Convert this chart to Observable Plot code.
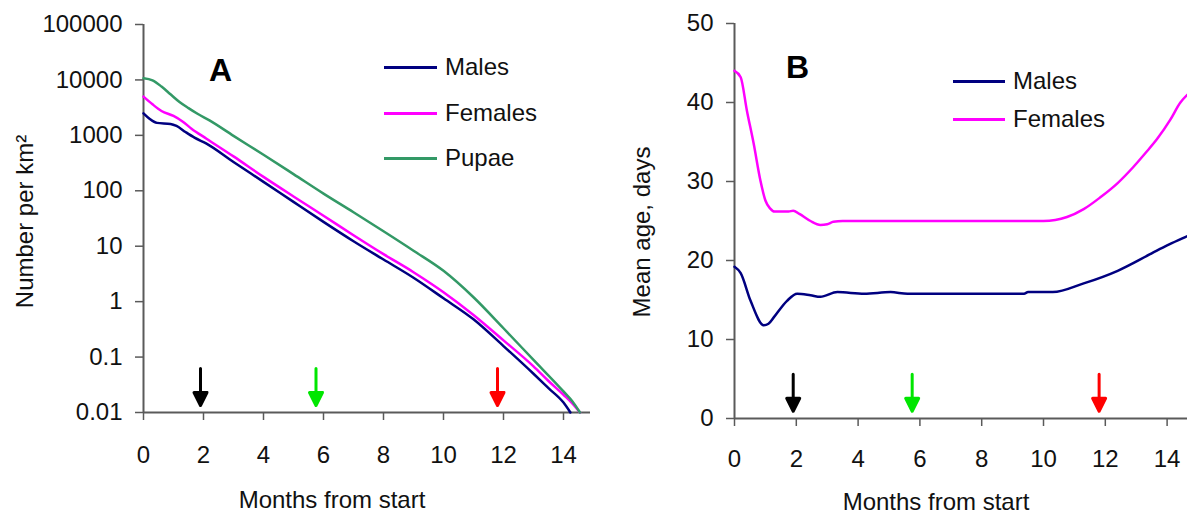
<!DOCTYPE html>
<html><head><meta charset="utf-8">
<script src="https://cdn.jsdelivr.net/npm/d3@7"></script>
<script src="https://cdn.jsdelivr.net/npm/@observablehq/plot@0.6"></script>
<style>
body{margin:0;background:#fff;font-family:"Liberation Sans",Arial,sans-serif;}
#wrap{position:relative;width:1187px;height:515px;overflow:hidden;background:#fff;}
#panelA{position:absolute;left:0;top:0;}
#panelB{position:absolute;left:600px;top:0;}
.leg{position:absolute;font-size:24px;color:#111;display:flex;align-items:center;height:30px;white-space:nowrap;}
.leg .sw{display:inline-block;height:3px;margin-right:8px;}
</style></head>
<body><div id="wrap"><div id="panelA"></div><div id="panelB"></div></div>
<script>
// ---------- shared ----------
const xTicks = [0, 2, 4, 6, 8, 10, 12, 14];
const xLabel = "Months from start";
const seriesNames = ["Males", "Females", "Pupae"];
const seriesColors = ["#000080", "#ff00ff", "#339966"];
const arrowMonths = [1.9, 5.75, 11.8];
const arrowColors = ["#000000", "#00e600", "#ff0000"];

// ---------- panel A (log scale, number per km²) ----------
const yTicksA = [0.01, 0.1, 1, 10, 100, 1000, 10000, 100000];
const yLabelA = "Number per km²";
const malesAMonths = [0, 0.2, 0.45, 0.9, 1.1, 1.4, 1.7, 2.1, 3, 4, 5, 6, 7, 8, 9, 10, 11, 12, 13, 13.5, 14, 14.23];
const malesAValues = [2500, 2000, 1680, 1610, 1480, 1150, 910, 710, 331, 145, 63, 27.5, 12.3, 5.75, 2.7, 1.15, 0.48, 0.158, 0.050, 0.0275, 0.0151, 0.010];
const femalesAMonths = [0, 0.3, 0.6, 1.0, 1.3, 1.6, 2.1, 3, 4, 5, 6, 7, 8, 9, 10, 11, 12, 13, 13.5, 14, 14.3, 14.55];
const femalesAValues = [5000, 3630, 2750, 2240, 1780, 1320, 870, 417, 178, 79, 35.5, 15.8, 7.2, 3.4, 1.48, 0.575, 0.20, 0.068, 0.037, 0.0209, 0.0145, 0.010];
const pupaeAMonths = [0, 0.3, 0.6, 0.9, 1.2, 1.5, 1.8, 2.2, 3, 4, 5, 6, 7, 8, 9, 10, 11, 12, 13, 14, 14.3, 14.55];
const pupaeAValues = [10700, 9800, 7600, 5500, 4000, 3100, 2450, 1860, 980, 447, 200, 89, 41, 18.6, 8.3, 3.6, 1.20, 0.331, 0.089, 0.024, 0.0158, 0.010];
const arrowTipA = 0.0134;

// ---------- panel B (mean age, days) ----------
const yTicksB = [0, 10, 20, 30, 40, 50];
const yLabelB = "Mean age, days";
const malesBMonths = [0, 0.2, 0.52, 0.95, 1.1, 1.27, 1.7, 2.03, 2.46, 2.78, 3.33, 4.2, 5.05, 5.6, 9.37, 9.5, 10.3, 11.3, 12.4, 13.5, 14.0, 14.55, 14.66];
const malesBValues = [19.2, 18.4, 14.9, 11.8, 12.0, 12.8, 14.9, 15.8, 15.6, 15.4, 16.0, 15.8, 16.0, 15.8, 15.8, 16.0, 16.0, 17.1, 18.7, 20.9, 21.9, 22.9, 23.1];
const femalesBMonths = [0, 0.2, 0.4, 0.62, 0.84, 1.0, 1.15, 1.3, 1.75, 1.9, 2.1, 2.46, 2.78, 3.0, 3.2, 3.5, 10.0, 10.76, 11.3, 11.84, 12.4, 12.9, 13.3, 13.68, 14.1, 14.43, 14.66];
const femalesBValues = [44.0, 43.2, 39.0, 34.8, 30.1, 27.6, 26.6, 26.2, 26.2, 26.3, 25.9, 25.0, 24.5, 24.6, 24.9, 25.0, 25.0, 25.5, 26.5, 28.0, 29.8, 31.8, 33.6, 35.4, 37.8, 40.0, 41.0];
const arrowTipB = 0.92;

const toRows = (ms, vs) => ms.map((m, i) => ({month: m, value: vs[i]}));

const arrowShape = {
  draw(ctx, l) {
    const hw = 6.5, hh = 13;
    ctx.moveTo(0, 0);
    ctx.lineTo(0, -(l - hh));
    ctx.moveTo(-hw, -(l - hh));
    ctx.lineTo(hw, -(l - hh));
    ctx.lineTo(0, -l);
    ctx.closePath();
  }
};

const axisColor = "#5a5a5a";
const textColor = "#111";
const fontFam = "'Liberation Sans', Arial, sans-serif";

function arrows(tip) {
  return arrowMonths.map((m, i) => Plot.vector([{month: m, tip}], {
    x: "month", y: "tip", length: 37, rotate: 180, anchor: "end",
    shape: arrowShape, stroke: arrowColors[i], fill: arrowColors[i], strokeWidth: 3
  }));
}

// Panel A
const seriesA = [toRows(malesAMonths, malesAValues), toRows(femalesAMonths, femalesAValues), toRows(pupaeAMonths, pupaeAValues)];
const plotA = Plot.plot({
  width: 600, height: 515,
  marginLeft: 143, marginRight: 10, marginTop: 24, marginBottom: 103,
  style: {fontFamily: fontFam, fontSize: "24px", color: textColor, background: "white"},
  x: {domain: [0, 14.9]},
  y: {type: "log", domain: [0.01, 100000]},
  marks: [
    Plot.axisY({ticks: yTicksA, tickFormat: d => String(d), tickSize: 8, tickPadding: 13, stroke: axisColor, strokeWidth: 1.5, label: null, fill: textColor}),
    Plot.axisX({ticks: xTicks, tickFormat: d => String(d), tickSize: 8, tickPadding: 25, stroke: axisColor, strokeWidth: 1.5, label: null, fill: textColor}),
    Plot.ruleX([0], {stroke: axisColor, strokeWidth: 2}),
    Plot.ruleY([0.01], {stroke: axisColor, strokeWidth: 2}),
    ...seriesA.map((rows, i) => Plot.line(rows, {x: "month", y: "value", stroke: seriesColors[i], strokeWidth: 2.5, curve: "monotone-x"})),
    ...arrows(arrowTipA),
    Plot.text([xLabel], {text: d => d, frameAnchor: "bottom", dx: -35, dy: 88, fontSize: 24, fill: textColor, textAnchor: "middle", lineAnchor: "middle"}),
    Plot.text([yLabelA], {text: d => d, frameAnchor: "left", rotate: -90, dx: -118, dy: 3, fontSize: 24, fill: textColor, textAnchor: "middle", lineAnchor: "middle"}),
    Plot.text(["A"], {text: d => d, frameAnchor: "top-left", dx: 77, dy: 46, fontSize: 32, fontWeight: "bold", fill: "#000", textAnchor: "middle", lineAnchor: "middle"})
  ]
});
document.getElementById("panelA").appendChild(plotA);

// Panel B
const seriesB = [toRows(malesBMonths, malesBValues), toRows(femalesBMonths, femalesBValues)];
const plotB = Plot.plot({
  width: 587, height: 515,
  marginLeft: 134, marginRight: 0, marginTop: 23, marginBottom: 97,
  style: {fontFamily: fontFam, fontSize: "24px", color: textColor, background: "white"},
  x: {domain: [0, 14.66]},
  y: {domain: [0, 50]},
  marks: [
    Plot.axisY({ticks: yTicksB, tickFormat: d => String(d), tickSize: 8, tickPadding: 13, stroke: axisColor, strokeWidth: 1.5, label: null, fill: textColor}),
    Plot.axisX({ticks: xTicks, tickFormat: d => String(d), tickSize: 8, tickPadding: 23, stroke: axisColor, strokeWidth: 1.5, label: null, fill: textColor}),
    Plot.ruleX([0], {stroke: axisColor, strokeWidth: 2}),
    Plot.ruleY([0], {stroke: axisColor, strokeWidth: 2}),
    ...seriesB.map((rows, i) => Plot.line(rows, {x: "month", y: "value", stroke: seriesColors[i], strokeWidth: 2.5, curve: "monotone-x"})),
    ...arrows(arrowTipB),
    Plot.text([xLabel], {text: d => d, frameAnchor: "bottom", dx: -25, dy: 84, fontSize: 24, fill: textColor, textAnchor: "middle", lineAnchor: "middle"}),
    Plot.text([yLabelB], {text: d => d, frameAnchor: "left", rotate: -90, dx: -92, dy: 11, fontSize: 24, fill: textColor, textAnchor: "middle", lineAnchor: "middle"}),
    Plot.text(["B"], {text: d => d, frameAnchor: "top-left", dx: 63, dy: 44, fontSize: 32, fontWeight: "bold", fill: "#000", textAnchor: "middle", lineAnchor: "middle"})
  ]
});
document.getElementById("panelB").appendChild(plotB);

// Legends
function legend(names, colors, left, tops, swatchW) {
  const wrap = document.getElementById("wrap");
  names.forEach((n, i) => {
    const d = document.createElement("div");
    d.className = "leg";
    d.style.left = left + "px";
    d.style.top = (tops[i] - 15) + "px";
    const sw = document.createElement("span");
    sw.className = "sw";
    sw.style.width = swatchW + "px";
    sw.style.background = colors[i];
    d.appendChild(sw);
    d.appendChild(document.createTextNode(n));
    wrap.appendChild(d);
  });
}
legend(seriesNames, seriesColors, 384, [67, 113, 158], 53);
legend(seriesNames.slice(0, 2), seriesColors.slice(0, 2), 953, [81, 119], 52);
</script></body></html>
